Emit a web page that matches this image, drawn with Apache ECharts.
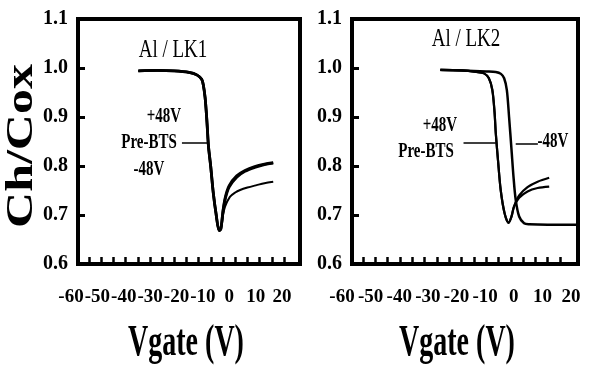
<!DOCTYPE html>
<html><head><meta charset="utf-8">
<script src="https://cdn.jsdelivr.net/npm/echarts@6/dist/echarts.min.js"></script>
<style>html,body{margin:0;padding:0;background:#fff}#c{width:591px;height:370px}</style>
</head><body><div id="c"></div>
<script>
// ---- data ----
const xTicks = [-60,-55,-50,-45,-40,-35,-30,-25,-20,-15,-10,-5,0,5,10,15,20];
const xLabels = [-60,-50,-40,-30,-20,-10,0,10,20];
const panelTitles = ['Al / LK1', 'Al / LK2'];
const seriesNames = ['+48V', 'Pre-BTS', '-48V'];

// Al / LK1  [Vgate, Ch/Cox]
const lk1Plus48 = [[-39.8,0.994],[-32,0.995],[-25,0.994],[-19,0.991],[-15.8,0.986],[-13.8,0.977],[-13.1,0.965],[-12.4,0.94],[-11.9,0.91],[-11.5,0.88],[-11.0,0.84],[-10.1,0.80],[-9.0,0.744],[-7.9,0.703],[-6.6,0.668],[-5.9,0.672],[-5.0,0.71],[-4.0,0.738],[-2.5,0.760],[0.6,0.780],[4,0.791],[8,0.799],[12,0.804],[15.6,0.807]];
const lk1PreBTS = [[-39.8,0.994],[-32,0.995],[-25,0.994],[-19,0.991],[-15.8,0.986],[-13.8,0.977],[-13.1,0.965],[-12.4,0.94],[-11.9,0.91],[-11.5,0.88],[-11.0,0.84],[-10.1,0.80],[-9.0,0.744],[-7.9,0.703],[-6.6,0.668],[-5.9,0.672],[-5.0,0.708],[-4.0,0.735],[-2.5,0.757],[0.6,0.777],[4,0.789],[8,0.797],[12,0.803],[15.6,0.806]];
const lk1Minus48 = [[-39.8,0.994],[-32,0.995],[-25,0.994],[-19,0.991],[-15.8,0.986],[-13.8,0.977],[-13.1,0.965],[-12.4,0.94],[-11.9,0.91],[-11.5,0.88],[-11.0,0.84],[-10.1,0.80],[-9.0,0.744],[-7.9,0.703],[-6.6,0.668],[-5.9,0.672],[-5.0,0.700],[-4.2,0.717],[-2.2,0.737],[0,0.746],[2.0,0.751],[5,0.756],[8.8,0.761],[12,0.765],[15.6,0.768]];

// Al / LK2
const lk2Plus48 = [[-28.6,0.996],[-20,0.995],[-14,0.992],[-10.9,0.989],[-8.9,0.979],[-7.5,0.955],[-6.6,0.91],[-6.1,0.867],[-5.2,0.812],[-4.1,0.751],[-2.5,0.703],[-0.9,0.684],[0.3,0.697],[1.3,0.717],[3.4,0.740],[6.8,0.757],[10.9,0.768],[15.6,0.776]];
const lk2PreBTS = [[-28.6,0.996],[-20,0.995],[-14,0.992],[-10.9,0.989],[-8.9,0.979],[-7.5,0.955],[-6.6,0.91],[-6.1,0.867],[-5.2,0.812],[-4.1,0.751],[-2.5,0.703],[-0.9,0.684],[0.3,0.697],[1.3,0.717],[3.4,0.735],[6.8,0.748],[10.9,0.755],[15.6,0.758]];
const lk2Minus48 = [[-28.6,0.996],[-20,0.995],[-10,0.993],[-6.1,0.992],[-4,0.988],[-2.7,0.979],[-1.6,0.955],[-0.7,0.90],[0.3,0.833],[1.1,0.778],[2.0,0.731],[3.4,0.697],[5.4,0.683],[7.5,0.681],[15,0.680],[27,0.680]];

// pointer lines  [[x1,y1],[x2,y2]]
const lk1Pointers = [[[-21.9,0.848],[-11.2,0.848]]];
const lk2Pointers = [[[-19.2,0.847],[-6.1,0.847]],[[2.0,0.845],[11.0,0.845]]];

// ---- chart ----
const SERIF = '"Liberation Serif", "Times New Roman", serif';
const chart = echarts.init(document.getElementById('c'), null, {renderer:'canvas'});

function plotGrid(left, width){ return {left:left, top:19, width:width, height:245, show:true, borderColor:'#000', borderWidth:4, backgroundColor:'transparent', containLabel:false}; }
function labelGrid(left, width){ return {left:left, top:19, width:width, height:245, show:false, containLabel:false}; }
function dataX(gi, min, max){
  return {type:'value', gridIndex:gi, min:min, max:max, position:'bottom',
    axisLine:{show:false, onZero:false}, splitLine:{show:false},
    axisTick:{show:true, inside:true, length:7, customValues:xTicks, lineStyle:{color:'#000', width:2.5}},
    axisLabel:{show:false}};
}
function labelX(gi){
  return {type:'value', gridIndex:gi, min:-60, max:20, position:'bottom',
    axisLine:{show:false, onZero:false}, splitLine:{show:false}, axisTick:{show:false},
    axisLabel:{show:true, customValues:xLabels, margin:24, color:'#000', fontFamily:SERIF, fontWeight:'bold', fontSize:19}};
}
function dataY(gi){
  return {type:'value', gridIndex:gi, min:0.6, max:1.1, interval:0.1, position:'left',
    axisLine:{show:false, onZero:false}, splitLine:{show:false},
    axisTick:{show:true, inside:true, length:7, lineStyle:{color:'#000', width:3}},
    axisLabel:{show:true, margin:10, color:'#000', fontFamily:SERIF, fontWeight:'bold', fontSize:20,
      showMinLabel:true, showMaxLabel:true, formatter:function(v){return v.toFixed(1);}}};
}
function mkSeries(name, data, axis, width, pointers){
  const s = {name:name, type:'line', data:data, xAxisIndex:axis, yAxisIndex:axis,
    symbol:'none', showSymbol:false, smooth:0.3, animation:false,
    lineStyle:{color:'#000', width:width}, z:3};
  if (pointers) {
    s.markLine = {silent:true, symbol:['none','none'], animation:false, label:{show:false},
      lineStyle:{color:'#000', width:1.5, type:'solid'},
      data: pointers.map(function(p){ return [{coord:p[0]},{coord:p[1]}]; })};
  }
  return s;
}
function txt(text, x, y, font, sx, sy, rot){
  return {type:'text', x:x, y:y, scaleX:sx||1, scaleY:sy||1, rotation:rot||0, silent:true,
    style:{text:text, font:font, fill:'#000', align:'center', verticalAlign:'middle', textAlign:'center', textVerticalAlign:'middle'}};
}
const annFont = 'bold 15px ' + SERIF;
const option = {
  backgroundColor:'#fff',
  animation:false,
  grid:[plotGrid(78,222), plotGrid(352,226), labelGrid(71,211), labelGrid(342,229)],
  xAxis:[dataX(0,-64.6,26.6), dataX(1,-64.5,27.3), labelX(2), labelX(3)],
  yAxis:[dataY(0), dataY(1), {type:'value', gridIndex:2, show:false}, {type:'value', gridIndex:3, show:false}],
  series:[
    mkSeries(seriesNames[0], lk1Plus48, 0, 2.8, lk1Pointers),
    mkSeries(seriesNames[1], lk1PreBTS, 0, 2.8),
    mkSeries(seriesNames[2], lk1Minus48, 0, 2),
    mkSeries(seriesNames[0], lk2Plus48, 1, 2.2, lk2Pointers),
    mkSeries(seriesNames[1], lk2PreBTS, 1, 2.2),
    mkSeries(seriesNames[2], lk2Minus48, 1, 2.5)
  ],
  graphic:[
    txt('Ch/Cox', 22, 146, 'bold 37px ' + SERIF, 1.35, 1, Math.PI/2),
    txt(panelTitles[0], 173, 51, '19px ' + SERIF, 1, 1.3),
    txt(panelTitles[1], 466, 40, '19px ' + SERIF, 1, 1.3),
    txt(seriesNames[0], 164, 117, annFont, 1, 1.4),
    txt(seriesNames[1], 149, 143, annFont, 1, 1.4),
    txt(seriesNames[2], 149, 170, annFont, 1, 1.4),
    txt(seriesNames[0], 440, 126, annFont, 1, 1.4),
    txt(seriesNames[1], 426, 152, annFont, 1, 1.4),
    txt(seriesNames[2], 553, 142, annFont, 1, 1.4),
    txt('Vgate (V)', 186, 343, 'bold 28px ' + SERIF, 1, 1.6),
    txt('Vgate (V)', 457, 343, 'bold 28px ' + SERIF, 1, 1.6)
  ]
};
chart.setOption(option);
</script></body></html>
